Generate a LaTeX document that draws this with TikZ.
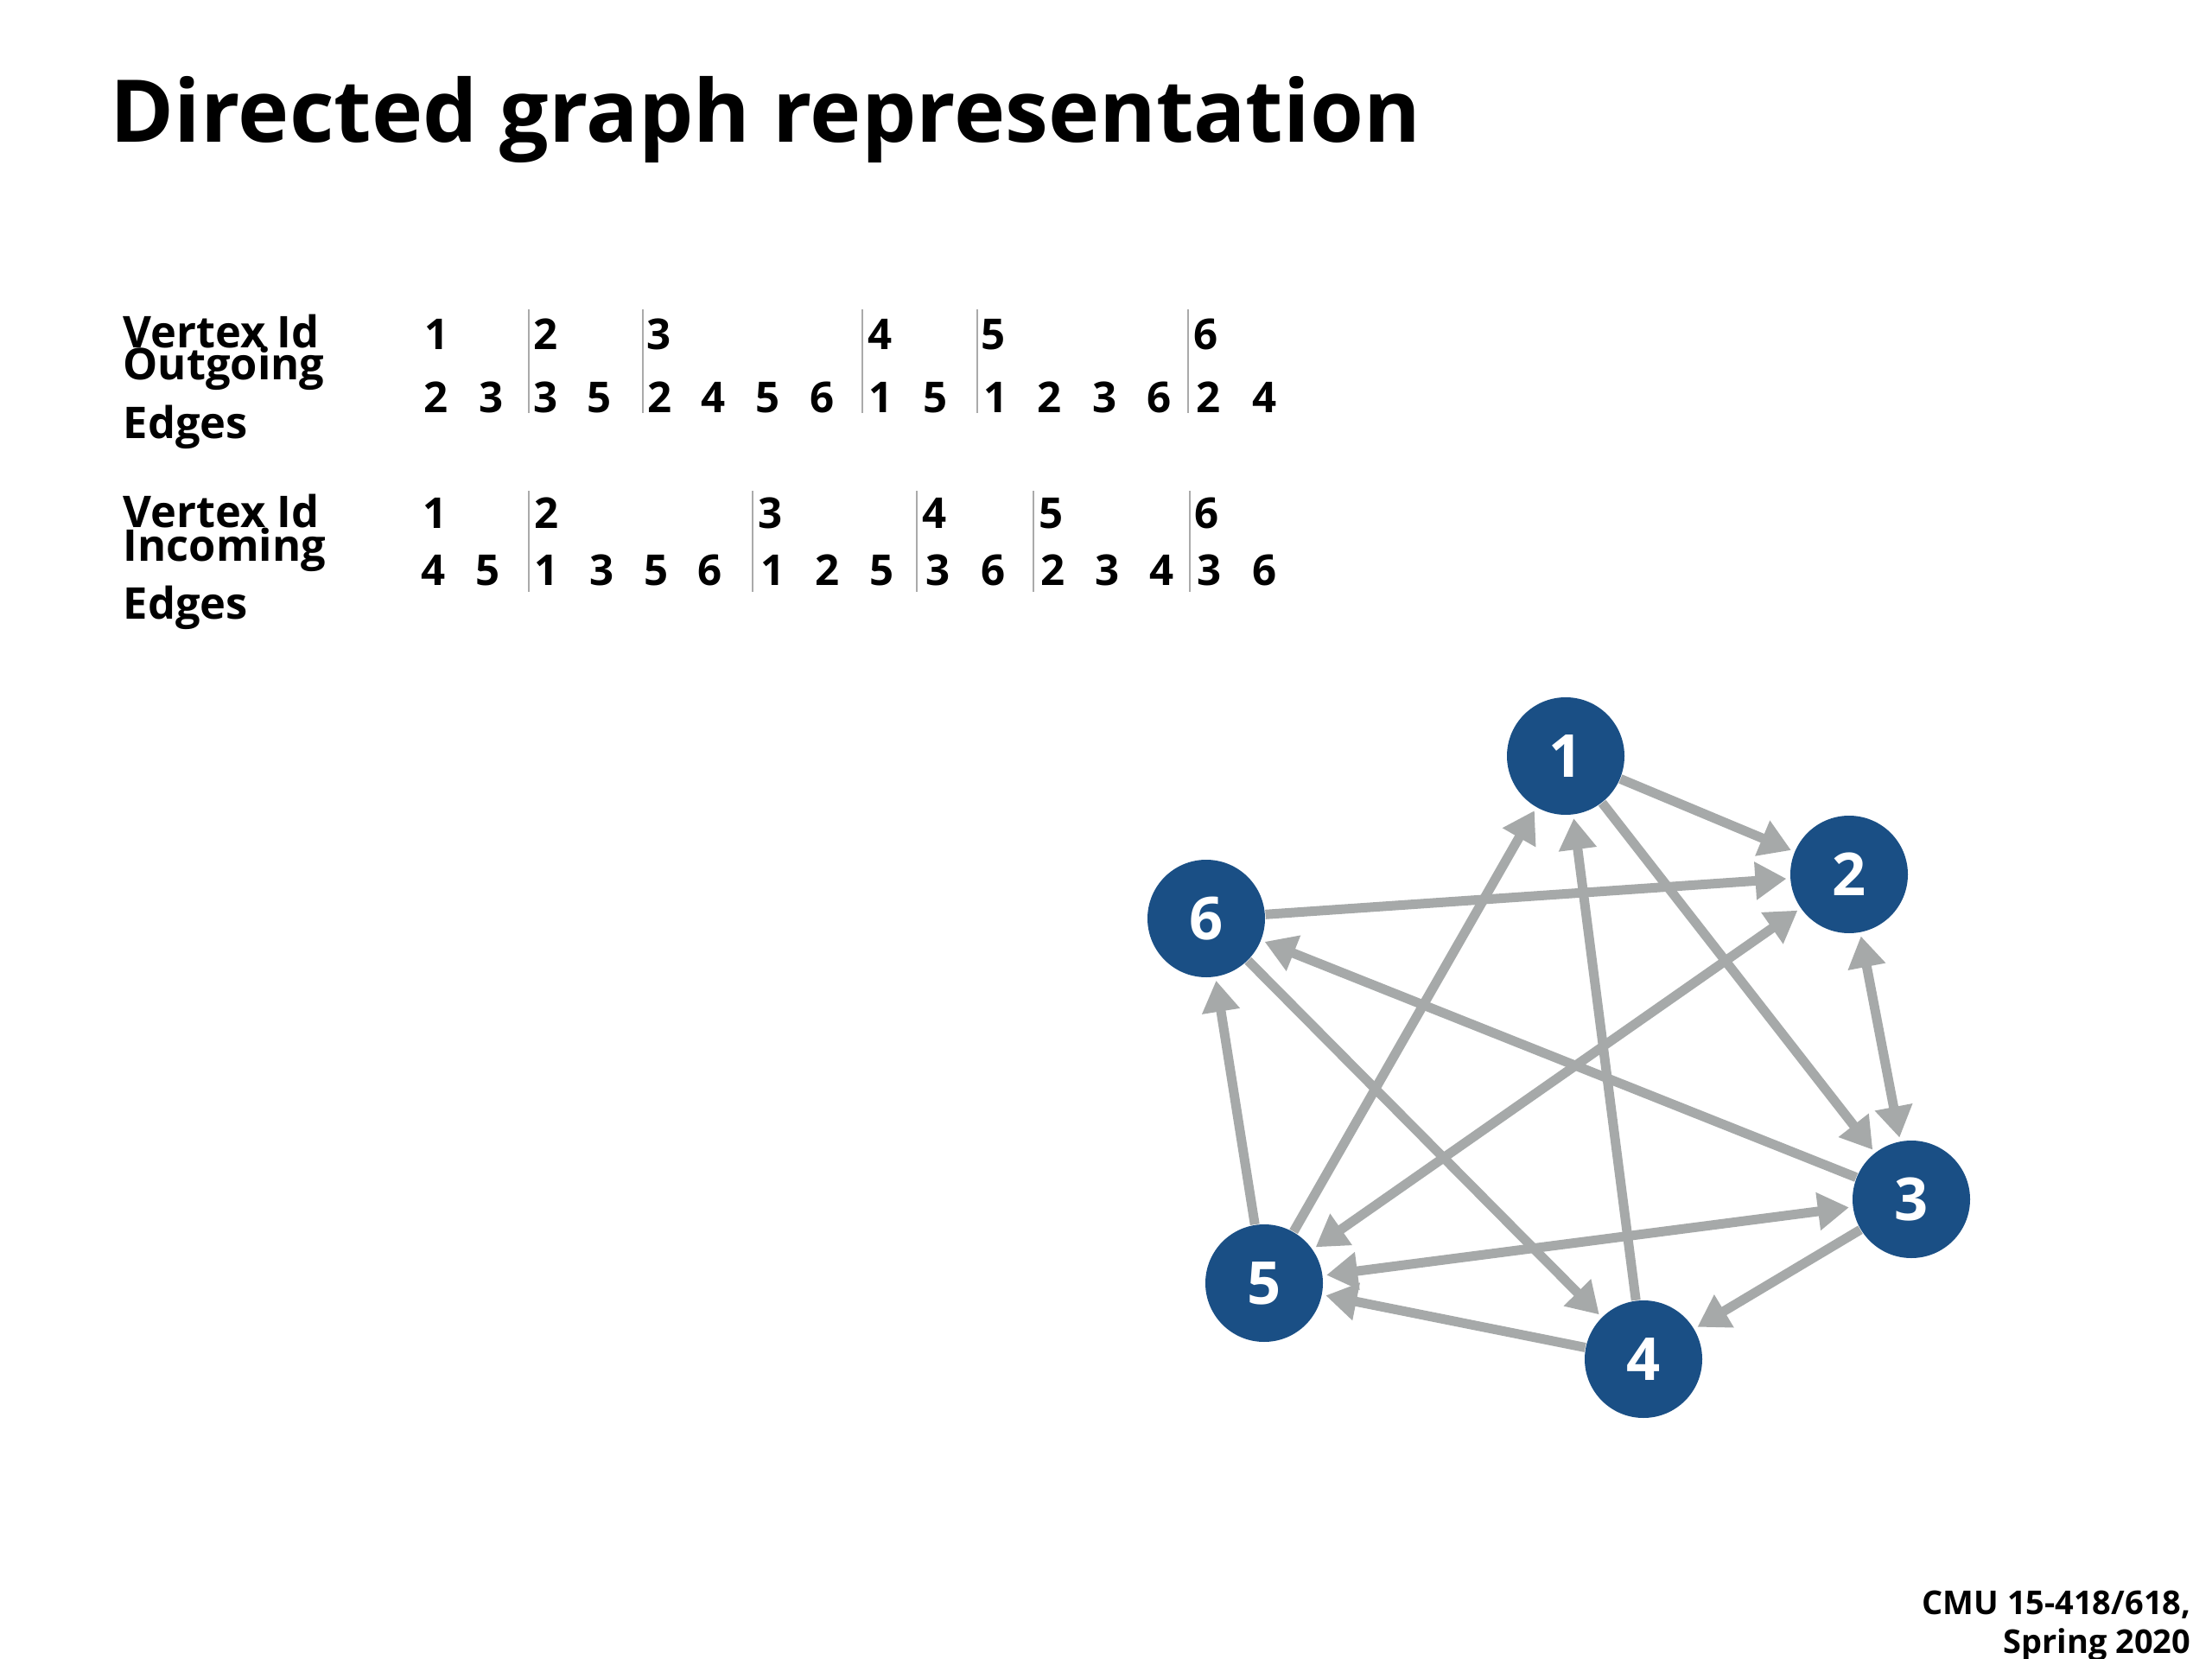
\documentclass[tikz,border=0pt]{standalone}
\usepackage{fontspec}
\setmainfont{Open Sans}
\usetikzlibrary{arrows.meta}
\definecolor{nodeblue}{RGB}{26,79,133}
\definecolor{edgegray}{RGB}{166,169,169}
\definecolor{bargray}{RGB}{170,170,170}

\begin{document}
\begin{tikzpicture}[
	vertex/.style={circle, fill=nodeblue, minimum size=1.36cm, inner sep=0pt, text=white, font=\fontsize{19.5}{19.5}\selectfont\bfseries},
	edge/.style={draw=edgegray, line width=0.11cm, -{Triangle[length=0.36cm, width=0.42cm]}, shorten >=0.04cm},
	bidir/.style={edge, {Triangle[length=0.36cm, width=0.42cm]}-{Triangle[length=0.36cm, width=0.42cm]}, shorten <=0.04cm},
	num/.style={anchor=base, inner sep=0pt, font=\fontsize{14}{14}\selectfont\bfseries},
	lab/.style={anchor=base west, inner sep=0pt, font=\fontsize{14.4}{14.4}\selectfont\bfseries},
	bar/.style={draw=bargray, line width=0.02cm}
]
				\useasboundingbox (0,0) rectangle (25.6,-19.2);

				% タイトル
				\node[anchor=base west, inner sep=0pt, font=\fontsize{28.5}{28.5}\selectfont\bfseries] (title) at (1.27,-1.65) {Directed graph representation};

				% 出る辺の表
				\node[lab] (vid1) at (1.42,-4.03) {Vertex Id};
				\node[lab] (out1) at (1.42,-4.40) {Outgoing};
				\node[lab] (edg1) at (1.42,-5.08) {Edges};
				\node[num] (ot1) at (5.06,-4.05) {1};
				\node[num] (ot2) at (6.32,-4.05) {2};
				\node[num] (ot3) at (7.63,-4.05) {3};
				\node[num] (ot4) at (10.19,-4.05) {4};
				\node[num] (ot5) at (11.50,-4.05) {5};
				\node[num] (ot6) at (13.96,-4.05) {6};
				\node[num] (ob1) at (5.05,-4.78) {2};
				\node[num] (ob2) at (5.69,-4.78) {3};
				\node[num] (ob3) at (6.32,-4.78) {3};
				\node[num] (ob4) at (6.94,-4.78) {5};
				\node[num] (ob5) at (7.64,-4.78) {2};
				\node[num] (ob6) at (8.26,-4.78) {4};
				\node[num] (ob7) at (8.89,-4.78) {5};
				\node[num] (ob8) at (9.52,-4.78) {6};
				\node[num] (ob9) at (10.20,-4.78) {1};
				\node[num] (ob10) at (10.83,-4.78) {5};
				\node[num] (ob11) at (11.53,-4.78) {1};
				\node[num] (ob12) at (12.15,-4.78) {2};
				\node[num] (ob13) at (12.79,-4.78) {3};
				\node[num] (ob14) at (13.42,-4.78) {6};
				\node[num] (ob15) at (13.99,-4.78) {2};
				\node[num] (ob16) at (14.64,-4.78) {4};
				\draw[bar] (6.12,-3.58) -- (6.12,-4.78);
				\draw[bar] (7.44,-3.58) -- (7.44,-4.78);
				\draw[bar] (9.98,-3.58) -- (9.98,-4.78);
				\draw[bar] (11.31,-3.58) -- (11.31,-4.78);
				\draw[bar] (13.75,-3.58) -- (13.75,-4.78);

				% 入る辺の表
				\node[lab] (vid2) at (1.42,-6.10) {Vertex Id};
				\node[lab] (inc2) at (1.42,-6.50) {Incoming};
				\node[lab] (edg2) at (1.42,-7.16) {Edges};
				\node[num] (it1) at (5.04,-6.12) {1};
				\node[num] (it2) at (6.33,-6.12) {2};
				\node[num] (it3) at (8.92,-6.12) {3};
				\node[num] (it4) at (10.82,-6.12) {4};
				\node[num] (it5) at (12.17,-6.12) {5};
				\node[num] (it6) at (13.97,-6.12) {6};
				\node[num] (ib1) at (5.02,-6.78) {4};
				\node[num] (ib2) at (5.65,-6.78) {5};
				\node[num] (ib3) at (6.33,-6.78) {1};
				\node[num] (ib4) at (6.97,-6.78) {3};
				\node[num] (ib5) at (7.60,-6.78) {5};
				\node[num] (ib6) at (8.22,-6.78) {6};
				\node[num] (ib7) at (8.95,-6.78) {1};
				\node[num] (ib8) at (9.58,-6.78) {2};
				\node[num] (ib9) at (10.21,-6.78) {5};
				\node[num] (ib10) at (10.86,-6.78) {3};
				\node[num] (ib11) at (11.50,-6.78) {6};
				\node[num] (ib12) at (12.19,-6.78) {2};
				\node[num] (ib13) at (12.82,-6.78) {3};
				\node[num] (ib14) at (13.45,-6.78) {4};
				\node[num] (ib15) at (14.00,-6.78) {3};
				\node[num] (ib16) at (14.64,-6.78) {6};
				\draw[bar] (6.12,-5.68) -- (6.12,-6.85);
				\draw[bar] (8.71,-5.68) -- (8.71,-6.85);
				\draw[bar] (10.61,-5.68) -- (10.61,-6.85);
				\draw[bar] (11.96,-5.68) -- (11.96,-6.85);
				\draw[bar] (13.77,-5.68) -- (13.77,-6.85);

				% 頂点
				\node[vertex] (v1) at (18.12,-8.75) {1};
				\node[vertex] (v2) at (21.40,-10.12) {2};
				\node[vertex] (v3) at (22.12,-13.88) {3};
				\node[vertex] (v4) at (19.02,-15.73) {4};
				\node[vertex] (v5) at (14.63,-14.85) {5};
				\node[vertex] (v6) at (13.96,-10.63) {6};

				% 辺を引く
				\draw[edge] (v1) -- (v2);
				\draw[edge] (v1) -- (v3);
				\draw[bidir] (v2) -- (v3);
				\draw[bidir] (v2) -- (v5);
				\draw[edge] (v3) -- (v4);
				\draw[bidir] (v3) -- (v5);
				\draw[edge] (v3) -- (v6);
				\draw[edge] (v4) -- (v1);
				\draw[edge] (v4) -- (v5);
				\draw[edge] (v5) -- (v1);
				\draw[edge] (v5) -- (v6);
				\draw[edge] (v6) -- (v2);
				\draw[edge] (v6) -- (v4);

				% 右下
				\node[anchor=base east, inner sep=0pt, font=\fontsize{10.8}{10.8}\selectfont\bfseries] (foot1) at (25.36,-18.68) {CMU 15-418/618,};
				\node[anchor=base east, inner sep=0pt, font=\fontsize{10.8}{10.8}\selectfont\bfseries] (foot2) at (25.36,-19.13) {Spring 2020};
			\end{tikzpicture}
\end{document}
